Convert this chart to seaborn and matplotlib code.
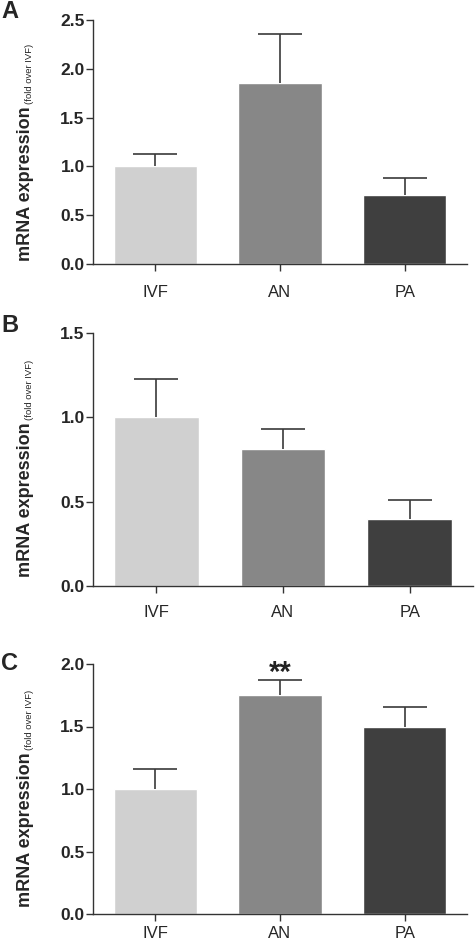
import matplotlib
matplotlib.use('Agg')
import matplotlib.pyplot as plt
import matplotlib.transforms as mtransforms
import seaborn as sns
import pandas as pd
import numpy as np


# data
groups = ['IVF', 'AN', 'PA']
bar_colors = ['#d0d0d0', '#878787', '#3f3f3f']

mean_a = [1.00, 1.85, 0.71]
sem_a = [0.13, 0.51, 0.17]

mean_b = [1.00, 0.81, 0.40]
sem_b = [0.23, 0.12, 0.11]

mean_c = [1.00, 1.75, 1.50]
sem_c = [0.16, 0.12, 0.16]

panel_letters = ['A', 'B', 'C']
y_tops = [2.5, 1.5, 2.0]
sig_marks = [None, None, {'AN': '**'}]


sns.set_style('ticks')
plt.rcParams['font.family'] = ['Liberation Sans', 'DejaVu Sans']

W, H = 475, 941
fig = plt.figure(figsize=(W / 100, H / 100), dpi=100)

# axes boxes in pixels: left, right, top, bottom
boxes = [(93, 467, 20, 264), (93, 473, 333, 586), (93, 467, 664, 914)]
letter_y = [0, 314, 652]
xlab_pad = [10, 8.5, 3.5]

axis_col = '#333333'


#==============================================================================
def draw_panel(ax, means, sems, y_top, marks, pad):
    df = pd.DataFrame({'group': groups, 'value': means})
    sns.barplot(data=df, x='group', y='value', hue='group', palette=bar_colors,
                width=0.67, saturation=1, errorbar=None, legend=False, ax=ax)
    eb = ax.errorbar(x=np.arange(len(groups)), y=means,
                     yerr=[np.zeros(len(sems)), sems], fmt='none',
                     ecolor='#3a3a3a', elinewidth=1.2, capsize=15.5, capthick=1.2)
    # only the upper cap is wanted
    for cl in eb[1]:
        if np.allclose(cl.get_ydata(), means):
            cl.set_visible(False)
    ax.set_xlim(-0.5, 2.5)
    ax.set_ylim(0, y_top)
    ticks = np.arange(0, y_top + 0.01, 0.5)
    ax.set_yticks(ticks)
    ax.set_yticklabels(['{:.1f}'.format(t) for t in ticks],
                       fontsize=12.5, fontweight='bold')
    ax.set_xticks(range(len(groups)))
    ax.set_xticklabels(groups, fontsize=12)
    ax.tick_params(axis='y', length=5, width=1, color=axis_col, pad=1)
    ax.tick_params(axis='x', length=5, width=1, color=axis_col, pad=pad)
    ax.set_xlabel('')
    ax.set_ylabel('')
    sns.despine(ax=ax)
    for sp in ['left', 'bottom']:
        ax.spines[sp].set_color(axis_col)
        ax.spines[sp].set_linewidth(1.0)
    if marks:
        for g, txt in marks.items():
            i = groups.index(g)
            ax.text(i, means[i] + sems[i] + 0.06, txt, ha='center', va='center',
                    fontsize=21, fontweight='bold', color='#222222')

    # y label: bold main part plus small note
    tr = mtransforms.blended_transform_factory(fig.transFigure, ax.transAxes)
    ax.text(26 / W, 0.645, 'mRNA expression', rotation=90, transform=tr,
            ha='center', va='top', fontsize=13, fontweight='bold')
    ax.text(29 / W, 0.655, '(fold over IVF)', rotation=90, transform=tr,
            ha='center', va='bottom', fontsize=6.8)


all_means = [mean_a, mean_b, mean_c]
all_sems = [sem_a, sem_b, sem_c]

for k in range(3):
    l, r, t, b = boxes[k]
    ax = fig.add_axes([l / W, (H - b) / H, (r - l) / W, (b - t) / H])
    draw_panel(ax, all_means[k], all_sems[k], y_tops[k], sig_marks[k], xlab_pad[k])
    fig.text(1 / W, 1 - letter_y[k] / H, panel_letters[k], ha='left', va='top',
             fontsize=17, fontweight='bold')

fig.savefig('out.png', dpi=100)
